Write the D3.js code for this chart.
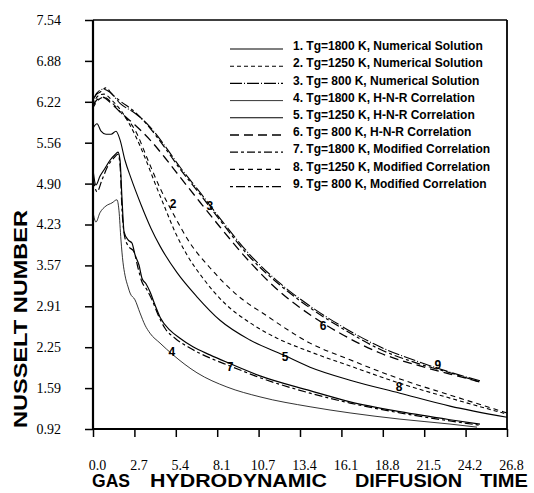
<!DOCTYPE html>
<html>
<head>
<meta charset="utf-8">
<script src="https://cdn.jsdelivr.net/npm/d3@7"></script>
<style>
  body { margin: 0; background: #fff; }
  svg { display: block; }
</style>
</head>
<body>
<div id="chart"></div>
<script>
// axis ticks (labels as printed on the original figure)
var xTickValues = [0, 2.68, 5.36, 8.04, 10.72, 13.4, 16.08, 18.76, 21.44, 24.12, 26.8];
var xTickLabels = ["0.0", "2.7", "5.4", "8.1", "10.7", "13.4", "16.1", "18.8", "21.5", "24.2", "26.8"];
var yTickValues = [0.92, 1.582, 2.244, 2.906, 3.568, 4.23, 4.892, 5.554, 6.216, 6.878, 7.54];
var yTickLabels = ["0.92", "1.59", "2.25", "2.91", "3.57", "4.23", "4.90", "5.56", "6.22", "6.88", "7.54"];

var legendLabels = [
    "1. Tg=1800 K, Numerical Solution",
    "2. Tg=1250 K, Numerical Solution",
    "3. Tg= 800 K, Numerical Solution",
    "4. Tg=1800 K, H-N-R Correlation",
    "5. Tg=1250 K, H-N-R Correlation",
    "6. Tg= 800 K, H-N-R Correlation",
    "7. Tg=1800 K, Modified Correlation",
    "8. Tg=1250 K, Modified Correlation",
    "9. Tg= 800 K, Modified Correlation"
];

// series values: [diffusion time, Nusselt number]
var nu1 = [[0,5.11],[0.19,4.87],[0.45,5.01],[0.78,5.14],[1.10,5.27],[1.42,5.36],[1.62,5.40],[1.75,5.27],[1.88,4.63],[2.01,4.11],
           [2.27,3.98],[2.52,3.93],[2.72,3.74],[2.98,3.57],[3.17,3.36],[3.43,3.27],[3.69,3.14],[4.01,2.93],[4.34,2.73],[4.98,2.52],
           [5.63,2.39],[6.47,2.25],[7.57,2.12],[8.67,2.00],[10.81,1.78],[14.05,1.54],[16.64,1.36],[19.87,1.20],[23.11,1.07],[25.05,1.00]];
var nu2 = [[0,6.16],[0.32,6.31],[0.71,6.34],[1.23,6.24],[1.88,6.05],[2.72,5.68],[3.37,5.31],[4.01,4.90],[4.66,4.50],[5.31,4.11],
           [6.08,3.74],[7.12,3.36],[8.42,2.98],[10.16,2.64],[11.91,2.39],[14.05,2.17],[16.64,1.94],[19.87,1.66],[23.11,1.42],[26.8,1.16]];
var nu3 = [[0,6.24],[0.26,6.36],[0.65,6.42],[1.10,6.37],[1.75,6.19],[2.72,6.03],[3.69,5.81],[4.66,5.50],[5.63,5.16],[6.93,4.75],
           [8.22,4.33],[10.16,3.74],[12.10,3.28],[14.05,2.91],[15.99,2.60],[18.58,2.25],[21.17,2.00],[23.11,1.84],[25.05,1.70]];
var nu4 = [[0,4.43],[0.19,4.27],[0.45,4.42],[0.84,4.53],[1.23,4.58],[1.55,4.63],[1.68,4.46],[1.81,3.98],[1.94,3.62],[2.07,3.41],
           [2.27,3.22],[2.40,3.12],[2.72,3.01],[3.04,2.80],[3.37,2.60],[3.69,2.47],[4.34,2.31],[5.18,2.12],[6.73,1.83],[8.67,1.60],
           [10.81,1.44],[14.05,1.28],[16.64,1.18],[19.87,1.08],[23.11,1.00],[24.86,0.95]];
var nu5 = [[0,5.79],[0.26,5.86],[0.52,5.74],[0.84,5.69],[1.17,5.69],[1.49,5.74],[1.75,5.60],[2.07,5.27],[2.46,4.98],[3.11,4.55],
           [3.75,4.17],[4.34,3.88],[5.44,3.45],[6.73,3.06],[8.22,2.68],[10.16,2.36],[12.30,2.12],[14.05,1.92],[16.64,1.71],[19.87,1.50],
           [23.11,1.29],[26.8,1.11]];
var nu6 = [[0,6.15],[0.26,6.25],[0.65,6.29],[1.10,6.21],[1.75,6.05],[2.72,5.84],[3.69,5.60],[4.66,5.31],[5.63,5.00],[6.93,4.59],
           [8.22,4.19],[10.16,3.62],[12.10,3.14],[14.05,2.77],[15.99,2.47],[18.58,2.15],[21.17,1.94],[23.11,1.81],[25.05,1.68]];
var nu7 = [[0,4.98],[0.26,4.76],[0.58,4.95],[0.97,5.18],[1.36,5.31],[1.62,5.37],[1.75,5.19],[1.88,4.46],[2.07,4.01],[2.33,3.87],
           [2.65,3.79],[2.91,3.53],[3.17,3.30],[3.50,3.17],[3.82,3.01],[4.21,2.77],[4.66,2.55],[5.31,2.39],[6.28,2.23],[7.57,2.07],
           [8.87,1.94],[10.81,1.75],[14.05,1.50],[16.64,1.34],[19.87,1.18],[23.11,1.05],[25.05,0.98]];
var nu8 = [[0,6.12],[0.32,6.24],[0.71,6.29],[1.23,6.20],[1.88,6.02],[2.72,5.76],[3.56,5.27],[4.34,4.82],[5.31,4.35],[6.28,3.93],
           [7.57,3.53],[9.32,3.09],[11.26,2.75],[14.05,2.31],[16.64,2.04],[19.87,1.73],[23.11,1.47],[26.8,1.18]];
var nu9 = [[0,6.20],[0.19,6.33],[0.45,6.37],[0.84,6.44],[1.23,6.34],[1.75,6.23],[2.72,6.05],[3.69,5.79],[4.66,5.47],[5.63,5.13],
           [6.93,4.72],[8.22,4.30],[10.16,3.70],[12.10,3.25],[14.05,2.88],[15.99,2.57],[18.58,2.21],[21.17,1.97],[23.11,1.83],[25.05,1.68]];

var curveLabels = [
    { text: "2", t: 5.18, nu: 4.56 },
    { text: "3", t: 7.57, nu: 4.53 },
    { text: "4", t: 5.11, nu: 2.17 },
    { text: "5", t: 12.43, nu: 2.09 },
    { text: "6", t: 14.89, nu: 2.59 },
    { text: "7", t: 8.87, nu: 1.92 },
    { text: "8", t: 19.81, nu: 1.60 },
    { text: "9", t: 22.33, nu: 1.96 }
];

var allSeries = [nu1, nu2, nu3, nu4, nu5, nu6, nu7, nu8, nu9];

// line look for each curve (same order as legend)
var lineStyles = [
    { dash: null,         width: 1.2 },
    { dash: "4,3",        width: 1.1 },
    { dash: "12,2,1,2",   width: 1.1 },
    { dash: null,         width: 0.8 },
    { dash: null,         width: 1.1 },
    { dash: "9,5",        width: 1.3 },
    { dash: "8,3,3,3",    width: 1.2 },
    { dash: "5,4",        width: 1.1 },
    { dash: "3,3,9,3",    width: 1.2 }
];

var width = 534, height = 493;
// note: can't call it "top" at global scope, that's window.top
var plotLeft = 93, plotRight = 507, plotTop = 20, plotBottom = 429;

var svg = d3.select("#chart").append("svg")
    .attr("width", width)
    .attr("height", height);

var x = d3.scaleLinear().domain([0, 26.8]).range([plotLeft, plotRight]);
var y = d3.scaleLinear().domain([0.92, 7.54]).range([plotBottom, plotTop]);

// y axis
var yAxis = d3.axisLeft(y)
    .tickValues(yTickValues)
    .tickFormat(function (d, i) { return yTickLabels[i]; })
    .tickSize(8)
    .tickPadding(24);

var gy = svg.append("g").attr("transform", "translate(" + plotLeft + ",0)").call(yAxis);
gy.select(".domain").remove();
gy.selectAll("line").attr("stroke", "#000").attr("stroke-width", 1.5);
gy.selectAll("text")
    .attr("fill", "#000")
    .style("font-family", "'Liberation Serif', 'Times New Roman', serif")
    .style("font-size", "14px");

// x axis
var xAxis = d3.axisBottom(x)
    .tickValues(xTickValues)
    .tickFormat(function (d, i) { return xTickLabels[i]; })
    .tickSize(8)
    .tickPadding(23);

var gx = svg.append("g").attr("transform", "translate(0," + plotBottom + ")").call(xAxis);
gx.select(".domain").remove();
gx.selectAll("line").attr("stroke", "#000").attr("stroke-width", 1.5);
gx.selectAll("text")
    .attr("x", 4)
    .attr("fill", "#000")
    .style("font-family", "'Liberation Serif', 'Times New Roman', serif")
    .style("font-size", "14px");

// plot frame
svg.append("line").attr("x1", plotLeft).attr("x2", plotLeft).attr("y1", plotTop).attr("y2", plotBottom)
    .attr("stroke", "#000").attr("stroke-width", 2.2);
svg.append("line").attr("x1", plotLeft).attr("x2", plotRight).attr("y1", plotBottom).attr("y2", plotBottom)
    .attr("stroke", "#000").attr("stroke-width", 2.2);
svg.append("line").attr("x1", plotLeft).attr("x2", plotRight).attr("y1", plotTop).attr("y2", plotTop)
    .attr("stroke", "#000").attr("stroke-width", 1.6);
svg.append("line").attr("x1", plotRight).attr("x2", plotRight).attr("y1", plotTop).attr("y2", plotBottom)
    .attr("stroke", "#000").attr("stroke-width", 1.8);

// curves
var line = d3.line()
    .x(function (d) { return x(d[0]); })
    .y(function (d) { return y(d[1]); })
    .curve(d3.curveMonotoneX);

svg.append("g").selectAll("path")
    .data(allSeries)
    .enter()
    .append("path")
    .attr("d", line)
    .attr("fill", "none")
    .attr("stroke", "#000")
    .attr("stroke-width", function (d, i) { return lineStyles[i].width; })
    .attr("stroke-dasharray", function (d, i) { return lineStyles[i].dash; });

// numbers written on the curves
svg.append("g").selectAll("text")
    .data(curveLabels)
    .enter()
    .append("text")
    .attr("x", function (d) { return x(d.t); })
    .attr("y", function (d) { return y(d.nu); })
    .attr("text-anchor", "middle")
    .attr("dy", "0.35em")
    .style("font-family", "'Liberation Sans', Arial, sans-serif")
    .style("font-weight", "bold")
    .style("font-size", "12px")
    .text(function (d) { return d.text; });

// legend
var legend = svg.append("g");
var legendRowY = function (d, i) { return 46 + i * 17.2; };

legend.selectAll("line")
    .data(legendLabels)
    .enter()
    .append("line")
    .attr("x1", 230)
    .attr("x2", 283)
    .attr("y1", function (d, i) { return legendRowY(d, i) + 3; })
    .attr("y2", function (d, i) { return legendRowY(d, i) + 3; })
    .attr("stroke", "#000")
    .attr("stroke-width", function (d, i) { return lineStyles[i].width; })
    .attr("stroke-dasharray", function (d, i) { return lineStyles[i].dash; });

legend.selectAll("text")
    .data(legendLabels)
    .enter()
    .append("text")
    .attr("x", 293)
    .attr("y", legendRowY)
    .attr("dy", "0.35em")
    .style("font-family", "'Liberation Sans', Arial, sans-serif")
    .style("font-weight", "bold")
    .style("font-size", "12px")
    .text(function (d) { return d; });

// axis titles
var xTitleWords = [
    { text: "GAS", x0: 92, x1: 130 },
    { text: "HYDRODYNAMIC", x0: 150, x1: 327 },
    { text: "DIFFUSION", x0: 355, x1: 462 },
    { text: "TIME", x0: 480, x1: 528 }
];
svg.append("g").selectAll("text")
    .data(xTitleWords)
    .enter()
    .append("text")
    .attr("x", function (d) { return d.x0; })
    .attr("y", 487)
    .attr("textLength", function (d) { return d.x1 - d.x0; })
    .attr("lengthAdjust", "spacingAndGlyphs")
    .style("font-family", "'Liberation Sans', Arial, sans-serif")
    .style("font-weight", "bold")
    .style("font-size", "17.5px")
    .text(function (d) { return d.text; });

svg.append("text")
    .attr("transform", "translate(27,319) rotate(-90)")
    .attr("text-anchor", "middle")
    .attr("textLength", 218)
    .attr("lengthAdjust", "spacingAndGlyphs")
    .style("font-family", "'Liberation Sans', Arial, sans-serif")
    .style("font-weight", "bold")
    .style("font-size", "19px")
    .text("NUSSELT NUMBER");
</script>
</body>
</html>
